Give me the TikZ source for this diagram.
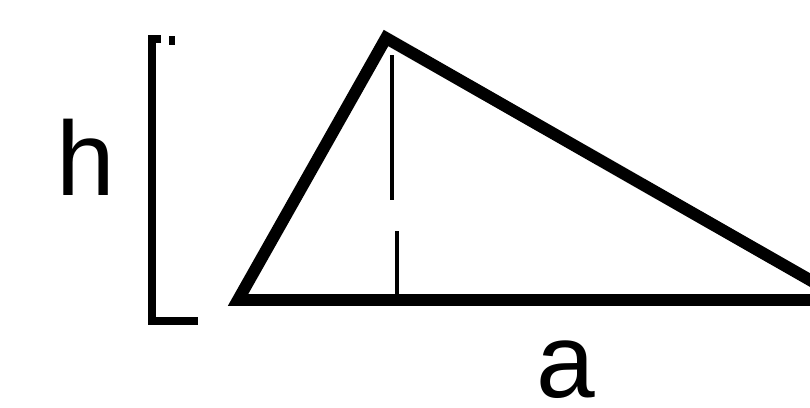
\documentclass[tikz,border=0pt]{standalone}
\usepackage{fontspec}
\setmainfont{Liberation Sans}
\usetikzlibrary{positioning,calc}

\begin{document}
\begin{tikzpicture}[
x=0.02cm, y=-0.02cm,
lado/.style={line width=6.8pt, line join=miter},
altura/.style={line width=2pt},
chave/.style={line width=5pt},
rotulo/.style={font=\fontsize{60}{60}\selectfont, inner sep=0pt}
]
\useasboundingbox (0,0) rectangle (810,407);
\coordinate (A) at (238,300);
\coordinate (C) at (386,38);
\coordinate (B) at (845,300);
\coordinate (h1) at (392,55);
\coordinate (h2) at (392,200);
\coordinate (h3) at (397,231);
\coordinate (pe) at (397,300);
\coordinate (ctop) at (152,39);
\coordinate (cbot) at (152,321);

\draw[lado] (A) -- (C) -- (B) -- cycle;
\draw[altura] (h1) -- (h2);
\draw[altura] (h3) -- (pe);
\draw[chave] ($(ctop)+(9,0)$) -- (ctop) -- (cbot) -- ($(cbot)+(46,0)$);
\draw[line width=3pt] (172,36) -- (172,45);

\node[rotulo] (h) at (86,157) {h};
\node[rotulo] (a) at (566,370) {a};
\end{tikzpicture}
\end{document}
